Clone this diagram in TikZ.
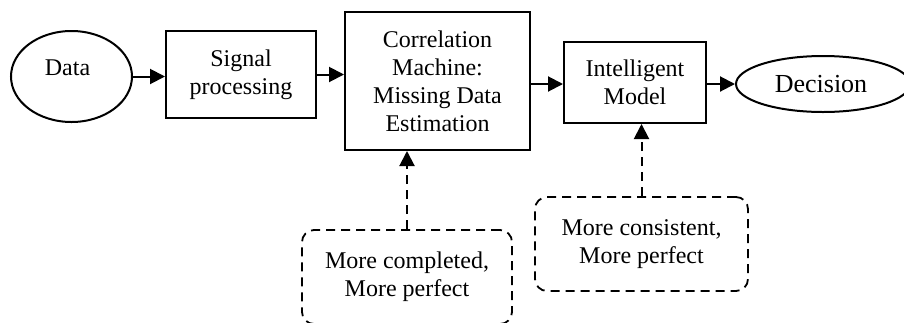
\documentclass[tikz,border=0pt]{standalone}
\usepackage{fontspec}
\setmainfont{Liberation Serif}
\usetikzlibrary{arrows.meta,shapes.geometric}

\tikzstyle{blk} = [draw, line width=2pt, align=center, inner sep=0pt]
\tikzstyle{oval} = [draw, ellipse, line width=2pt, inner sep=0pt]
\tikzstyle{note} = [draw, dash pattern=on 9pt off 6pt, line width=1.8pt, rounded corners=12pt, align=center, inner sep=0pt]

\begin{document}
\begin{tikzpicture}[x=1pt, y=-1pt,
>={Triangle[length=15pt,width=15pt]},
font=\fontsize{24}{28}\selectfont,
]
\useasboundingbox (0,0) rectangle (904,322);

%DATA
\node[oval, minimum width=121pt, minimum height=91pt, text height=17pt, text depth=19pt] (data) at (71.5,76.5) {\hspace*{-8pt}Data};

%SIGNAL PROCESSING
\node[blk, minimum width=150pt, minimum height=87pt] (sig) at (241,74.5) {Signal\\processing};

%CORRELATION MACHINE
\node[blk, minimum width=185pt, minimum height=138pt] (corr) at (437.5,81) {Correlation\\Machine:\\Missing Data\\Estimation};

%INTELLIGENT MODEL
\node[blk, minimum width=142pt, minimum height=81pt] (intel) at (635,82.5) {Intelligent\\Model};

%DECISION
\node[oval, minimum width=174pt, minimum height=56pt, font=\fontsize{26}{30}\selectfont] (dec) at (823,84) {Decision\hspace*{4pt}};

%notes
\node[note, minimum width=210pt, minimum height=94pt] (note1) at (407,277) {More completed,\\More perfect};
\node[note, minimum width=213pt, minimum height=94pt] (note2) at (641.5,244) {More consistent,\\More perfect};

\draw[->, line width=2pt] (data) -- (data -| sig.west);
\draw[->, line width=2pt] (sig.east) -- (sig.east -| corr.west);
\draw[->, line width=2pt] (corr.east |- dec) -- (intel.west |- dec);
\draw[->, line width=2pt] (intel.east |- dec) -- (dec);

\draw[->, line width=2pt, dash pattern=on 9pt off 6pt] (note1.north) -- (note1.north |- corr.south);
\draw[->, line width=2pt, dash pattern=on 9pt off 6pt] (note2.north) -- (note2.north |- intel.south);

\end{tikzpicture}
\end{document}
